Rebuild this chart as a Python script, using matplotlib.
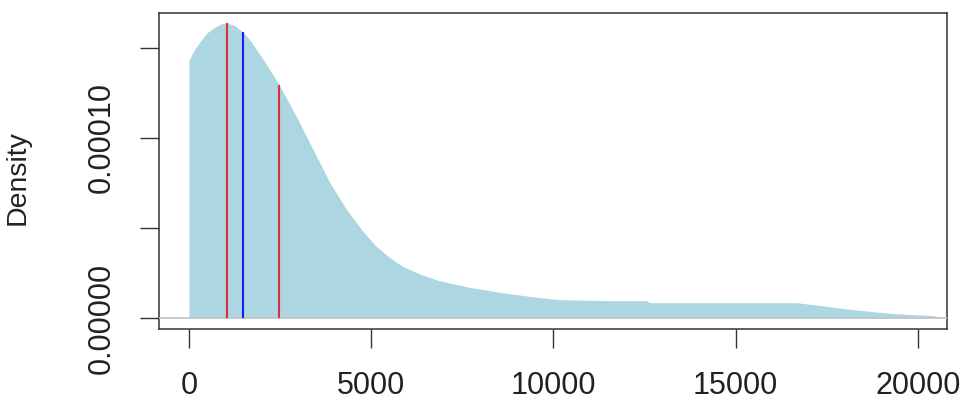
import numpy as np
import matplotlib
matplotlib.use('Agg')
import matplotlib.pyplot as plt

plt.rcParams['font.family'] = ['Liberation Sans', 'DejaVu Sans']

#--Density curve
dens_x = [0, 150, 300, 500, 670, 850, 1034, 1250, 1470, 1650, 1860, 2150, 2460, 2950,
          3410, 3870, 4330, 4780, 5100, 5420, 5650, 5880, 6340, 6800, 7250, 7710, 8620,
          9540, 10180, 11000, 11820, 12560, 12650, 16670, 17220, 18130, 19230, 20410, 20690]
dens_y = [0.0001433, 0.000149, 0.0001535, 0.0001585, 0.000161, 0.0001632, 0.000164,
          0.0001625, 0.000159, 0.000155, 0.0001489, 0.000140, 0.00013, 0.0001118,
          0.0000933, 0.000075, 0.00006, 0.000048, 0.0000405, 0.000035, 0.0000315,
          0.0000285, 0.0000244, 0.0000211, 0.000019, 0.000017, 0.000014, 0.0000115,
          0.0000102, 0.0000098, 0.0000096, 0.0000096, 0.0000085, 0.0000085,
          0.0000072, 0.0000048, 0.0000026, 0.0000013, 0.0000004]

#--Marker lines
red_x = [1040, 2470]
blue_x = [1480]

x_ticks = [0, 5000, 10000, 15000, 20000]
y_ticks = [0.0, 0.00005, 0.00010, 0.00015]
y_labels = ['0.00000', '', '0.00010', '']

#%%
fig = plt.figure(figsize=(9.63, 4.01), dpi=100)
ax = fig.add_axes([0.1651, 0.1796, 0.8183, 0.7887])

xs = np.array(dens_x)
ds = np.array(dens_y)
ax.fill_between(xs, 0, ds, color='#acd6e2', lw=0)
ax.axhline(0, color='#c4c4c4', lw=1.2, zorder=3)

ax.vlines(red_x, 0, np.interp(red_x, xs, ds), color='#dc2f3c', lw=1.5, zorder=4)
ax.vlines(blue_x, 0, np.interp(blue_x, xs, ds), color='#1c1cf2', lw=1.5, zorder=4)

ax.set_xlim(-823, 20796)
ax.set_ylim(-0.0000061, 0.0001696)

ax.set_xticks(x_ticks)
ax.set_xticklabels([str(t) for t in x_ticks], fontsize=22, color='#222222')
ax.set_yticks(y_ticks)
ax.set_yticklabels(y_labels, fontsize=22, rotation=90, va='center', color='#222222')
ax.tick_params(axis='x', length=13.5, width=1.0, pad=17, color='#333333')
ax.tick_params(axis='y', length=13.5, width=1.0, pad=17, color='#333333')

for s in ax.spines.values():
    s.set_linewidth(1.1)
    s.set_color('#333333')

ax.set_ylabel('Density', fontsize=20.5, color='#222222')
ax.yaxis.set_label_coords(-0.163, 0.48)

plt.savefig('out.png', dpi=100)
plt.close()
